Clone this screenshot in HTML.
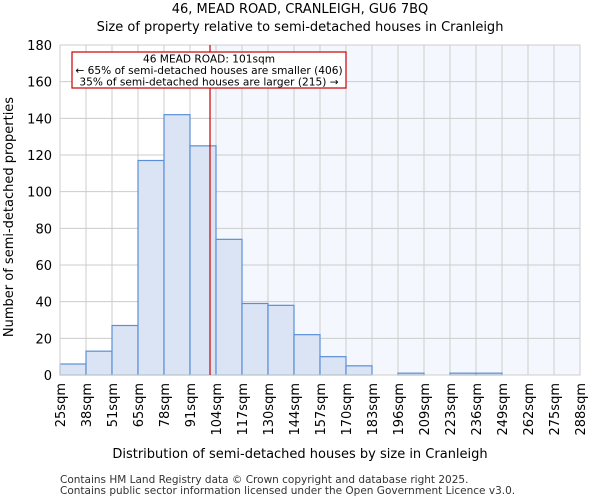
<!DOCTYPE html>
<html><head><meta charset="utf-8"><style>
body{margin:0;background:#fff;font-family:"DejaVu Sans","Liberation Sans",sans-serif}
</style></head><body>
<svg id="chart" width="600" height="500" xmlns="http://www.w3.org/2000/svg" font-family="DejaVu Sans, Liberation Sans, sans-serif">
<text x="300" y="13" text-anchor="middle" font-size="13">46, MEAD ROAD, CRANLEIGH, GU6 7BQ</text>
<text x="300" y="31" text-anchor="middle" font-size="13">Size of property relative to semi-detached houses in Cranleigh</text>
<g id="plot"></g>
<text x="300" y="458" text-anchor="middle" font-size="13">Distribution of semi-detached houses by size in Cranleigh</text>
<text transform="translate(13,217) rotate(-90)" text-anchor="middle" font-size="13">Number of semi-detached properties</text>
<text x="60" y="483" font-size="10.5" fill="#333">Contains HM Land Registry data © Crown copyright and database right 2025.</text>
<text x="60" y="494" font-size="10.5" fill="#333">Contains public sector information licensed under the Open Government Licence v3.0.</text>
</svg>
<script>
const binLabels=["25sqm","38sqm","51sqm","65sqm","78sqm","91sqm","104sqm","117sqm","130sqm","144sqm","157sqm","170sqm","183sqm","196sqm","209sqm","223sqm","236sqm","249sqm","262sqm","275sqm","288sqm"];
const binEdges=[25,38,51,65,78,91,104,117,130,144,157,170,183,196,209,223,236,249,262,275,288];
const counts=[6,13,27,117,142,125,74,39,38,22,10,5,0,1,0,1,1,0,0,0];
const yTicks=[0,20,40,60,80,100,120,140,160,180];
const propertySize=101;
const NS="http://www.w3.org/2000/svg";
const L=60,R=580,T=45,B=375,yMax=180;
const g=document.getElementById('plot');
function xi(i){return L+i*(R-L)/(binEdges.length-1);}
function xv(v){for(let i=0;i<binEdges.length-1;i++){if(v<=binEdges[i+1]){return xi(i)+(v-binEdges[i])/(binEdges[i+1]-binEdges[i])*(xi(i+1)-xi(i));}}return R;}
function y(v){return B-v/yMax*(B-T);}
function el(t,a){const e=document.createElementNS(NS,t);for(const k in a)e.setAttribute(k,a[k]);g.appendChild(e);return e;}
const px=xv(propertySize);
let e=el('rect',{x:px,y:T,width:R-px,height:B-T,fill:'#f4f7fd'});


yTicks.forEach(t=>{
 let l=el('line',{x1:L,x2:R,y1:y(t),y2:y(t),stroke:'#cccccc'});
 
 
 let tx=el('text',{x:L-8,y:y(t)+5,'text-anchor':'end','font-size':13});
 tx.textContent=t;
 
 
});
binLabels.forEach((s,i)=>{
 let l=el('line',{x1:xi(i),x2:xi(i),y1:T,y2:B,stroke:'#cccccc'});
 
 
 let tx=el('text',{transform:`translate(${xi(i)+5},${B+8}) rotate(-90)`,'text-anchor':'end','font-size':13});
 tx.textContent=s;
 
 
});
counts.forEach((c,i)=>{
 if(c<=0)return;
 let r=el('rect',{x:xi(i),y:y(c),width:xi(i+1)-xi(i),height:B-y(c),fill:'#dae4f4',stroke:'#5a8fd6','stroke-width':1.2});
 
 
});
e=el('rect',{x:L,y:T,width:R-L,height:B-T,fill:'none',stroke:'#cccccc'});


e=el('line',{x1:px,x2:px,y1:T,y2:B,stroke:'#cc0000','stroke-width':1.2});


e=el('rect',{x:72,y:52,width:274,height:36,fill:'#fff',stroke:'#cc0000','stroke-width':1.2});


["46 MEAD ROAD: 101sqm","← 65% of semi-detached houses are smaller (406)","35% of semi-detached houses are larger (215) →"].forEach((s,i)=>{
 let t=el('text',{x:209,y:62.5+i*11.5,'text-anchor':'middle','font-size':10.6});
 t.textContent=s;
 
 
});
</script>
</body></html>
